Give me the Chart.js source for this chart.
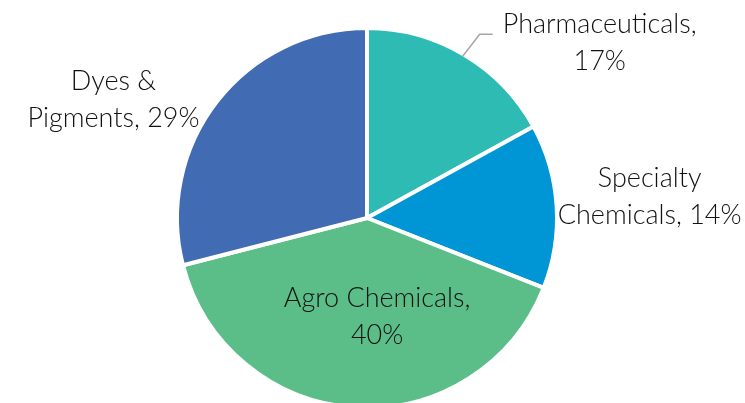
<!DOCTYPE html>
<html>
<head>
<meta charset="utf-8">
<script src="https://cdn.jsdelivr.net/npm/chart.js@4.4.0/dist/chart.umd.min.js"></script>
<style>
  html, body { margin: 0; padding: 0; background: #fff; overflow: hidden; }
  #wrap { width: 745px; height: 420px; }
</style>
</head>
<body>
<div id="wrap"><canvas id="pie" width="745" height="420"></canvas></div>
<script>
const categories = ['Pharmaceuticals', 'Specialty Chemicals', 'Agro Chemicals', 'Dyes & Pigments']
const shares = [17, 14, 40, 29]
const colors = ['#2dbbb4', '#0096d5', '#5bbe88', '#416bb3']
// how each label is written and where it sits, relative to the slice edge
const labelLines = [
  ['Pharmaceuticals,', '17%'],
  ['Specialty', 'Chemicals, 14%'],
  ['Agro Chemicals,', '40%'],
  ['Dyes &', 'Pigments, 29%']
]
const labelPlace = [
  { f: 1.0, dx: 137, dy: -13, leader: true },
  { f: 1.0, dx: 95, dy: -9 },
  { f: 0.5, dx: 16, dy: 5 },
  { f: 1.0, dx: -105, dy: -3 }
]

const pieLabels = {
  id: 'pieLabels',
  afterDatasetsDraw(chart) {
    const ctx = chart.ctx
    const meta = chart.getDatasetMeta(0)
    ctx.save()
    ctx.font = '300 27px Lato'
    ctx.fillStyle = '#111111'
    ctx.textAlign = 'center'
    ctx.textBaseline = 'middle'
    meta.data.forEach((arc, i) => {
      const p = arc.getProps(['x', 'y', 'startAngle', 'endAngle', 'outerRadius'], true)
      const mid = (p.startAngle + p.endAngle) / 2
      const r = p.outerRadius - 2
      const ax = p.x + Math.cos(mid) * r * labelPlace[i].f
      const ay = p.y + Math.sin(mid) * r * labelPlace[i].f
      const cx = ax + labelPlace[i].dx
      const cy = ay + labelPlace[i].dy
      if (labelPlace[i].leader) {
        ctx.strokeStyle = '#a6a6a6'
        ctx.lineWidth = 1.5
        ctx.beginPath()
        ctx.moveTo(ax, ay)
        ctx.lineTo(ax + 17, ay - 22)
        ctx.lineTo(ax + 30, ay - 22)
        ctx.stroke()
      }
      const lines = labelLines[i]
      const lh = 37
      lines.forEach((t, j) => {
        ctx.fillText(t, cx, cy + (j - (lines.length - 1) / 2) * lh)
      })
    })
    ctx.restore()
  }
}

new Chart(document.querySelector('#pie'), {
  type: 'pie',
  data: {
    labels: categories,
    datasets: [{
      data: shares,
      backgroundColor: colors,
      borderColor: '#ffffff',
      borderWidth: 4
    }]
  },
  options: {
    responsive: false,
    animation: false,
    layout: { padding: { top: 26, bottom: 10, left: 0, right: 11 } },
    plugins: {
      legend: { display: false },
      tooltip: { enabled: false }
    }
  },
  plugins: [pieLabels]
})
</script>
</body>
</html>
